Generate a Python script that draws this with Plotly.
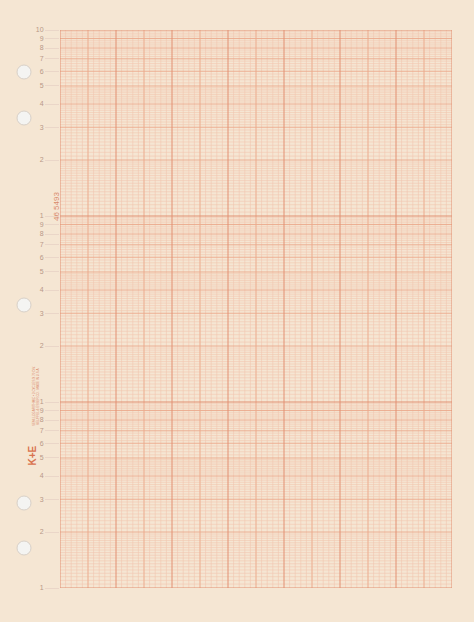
import numpy as np
import plotly.graph_objects as go

# semi-log paper: 3 cycles x 70 divisions
decades = [1, 10, 100]
x_major = list(range(0, 71, 10))
x_minor = [v for v in range(0, 71) if v % 10 != 0]
minor_steps = [(1, 2, 0.05), (2, 5, 0.1), (5, 10, 0.2)]
tick_vals = [1, 2, 3, 4, 5, 6, 7, 8, 9, 10, 20, 30, 40, 50, 60, 70, 80, 90,
             100, 200, 300, 400, 500, 600, 700, 800, 900, 1000]
tick_text = ["1", "2", "3", "4", "5", "6", "7", "8", "9",
             "1", "2", "3", "4", "5", "6", "7", "8", "9",
             "1", "2", "3", "4", "5", "6", "7", "8", "9", "10"]
holes_y = [72, 118, 305, 503, 548]

paper = "#f5e6d3"
minor_c = "#f2c6ae"
mid_c = "#eba98c"
major_c = "#e29072"

y_minor, y_major = [], []
for d in decades:
    for a, b, s in minor_steps:
        for v in np.arange(a, b, s):
            v = round(v, 3)
            if abs(v - round(v)) < 1e-6:
                y_major.append(v * d)
            else:
                y_minor.append(v * d)
y_major.append(1000)


def hlines(vals):
    xs, ys = [], []
    for v in vals:
        xs += [0, 70, None]
        ys += [v, v, None]
    return xs, ys


def vlines(vals):
    xs, ys = [], []
    for v in vals:
        xs += [v, v, None]
        ys += [1, 1000, None]
    return xs, ys


fig = go.Figure()
for xs_ys, c, w in [(vlines(x_minor), minor_c, 0.6), (hlines(y_minor), minor_c, 0.6),
                    (vlines([v for v in x_minor if v % 5 == 0]), mid_c, 0.8),
                    (hlines([v for v in y_major if v not in (1, 10, 100, 1000)]), mid_c, 0.9),
                    (vlines(x_major), major_c, 1.0), (hlines([1, 10, 100, 1000]), major_c, 1.2)]:
    fig.add_trace(go.Scatter(x=xs_ys[0], y=xs_ys[1], mode="lines",
                             line=dict(color=c, width=w), hoverinfo="skip", showlegend=False))

shapes = []
for hy in holes_y:
    shapes.append(dict(type="circle", xref="paper", yref="paper", layer="above",
                       x0=(17 - 60) / 392, x1=(31 - 60) / 392,
                       y0=(588 - hy - 7) / 558, y1=(588 - hy + 7) / 558,
                       fillcolor="#f4f4f2", line=dict(color="#d8d0c8", width=1)))

annotations = [
    dict(text="46 5493", xref="paper", yref="paper", x=(50 - 60) / 392, y=(588 - 190) / 558,
         textangle=-90, showarrow=False, font=dict(size=8, color="#d98a6c", family="Liberation Sans")),
    dict(text="<b>K+E</b>", xref="paper", yref="paper", x=(24 - 60) / 392, y=(588 - 468) / 558,
         textangle=-90, showarrow=False, font=dict(size=10, color="#d9734f", family="Liberation Sans")),
    dict(text="SEMI-LOGARITHMIC • 3 CYCLES X 70 DIV.<br>KEUFFEL & ESSER CO.  MADE IN U.S.A.",
         xref="paper", yref="paper", x=(30 - 60) / 392, y=(588 - 428) / 558,
         textangle=-90, showarrow=False, font=dict(size=3, color="#d98a6c", family="Liberation Sans")),
]

fig.update_layout(
    width=474, height=622, margin=dict(l=60, r=22, t=30, b=34),
    paper_bgcolor=paper, plot_bgcolor=paper,
    xaxis=dict(range=[0, 70], showgrid=False, zeroline=False, showticklabels=False, ticks=""),
    yaxis=dict(type="log", range=[0, 3], showgrid=False, zeroline=False,
               tickvals=tick_vals, ticktext=tick_text, ticks="outside", ticklen=14,
               tickcolor="#ead6c8", tickwidth=1,
               tickfont=dict(size=7, color="#b89888", family="Liberation Sans")),
    shapes=shapes, annotations=annotations,
)
fig.write_html("out.html", config={"displayModeBar": False})

# drop the browser's default page margin so the sheet fills the window
with open("out.html") as f:
    html = f.read()
html = html.replace("<body>", '<body style="margin:0;background:#f5e6d3">', 1)
with open("out.html", "w") as f:
    f.write(html)
